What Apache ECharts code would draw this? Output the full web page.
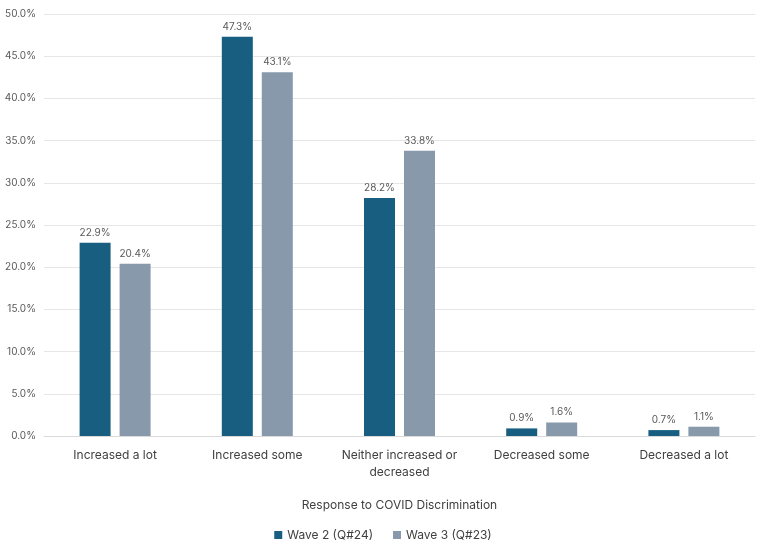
<!DOCTYPE html>
<html><head><meta charset="utf-8">
<script src="https://cdn.jsdelivr.net/npm/echarts@6/dist/echarts.min.js"></script>
<style>html,body{margin:0;padding:0;background:#fff}#c{width:766px;height:548px}</style>
</head><body><div id="c"></div>
<script>
const categories = ["Increased a lot", "Increased some", "Neither increased or\ndecreased", "Decreased some", "Decreased a lot"];
const wave2 = [22.9, 47.3, 28.2, 0.9, 0.7];
const wave3 = [20.4, 43.1, 33.8, 1.6, 1.1];
const seriesNames = ["Wave 2 (Q#24)", "Wave 3 (Q#23)"];
const axisTitle = "Response to COVID Discrimination";

const chart = echarts.init(document.getElementById('c'));
const lbl = {show:true, position:'top', distance:5, color:'#595959', fontSize:10, fontFamily:'Inter, Roboto, sans-serif', formatter: p => p.value.toFixed(1) + '%'};
chart.setOption({
  animation:false,
  grid:{left:44, right:11, top:14, bottom:112, containLabel:false},
  legend:{bottom:2, left:'center', itemWidth:8, itemHeight:8, itemGap:20, icon:'rect',
    textStyle:{color:'#404040', fontSize:12, fontFamily:'Inter, Roboto, sans-serif'}, data:seriesNames},
  xAxis:{type:'category', data:categories,
    name:axisTitle, nameLocation:'middle', nameGap:63,
    nameTextStyle:{color:'#404040', fontSize:12, fontFamily:'Inter, Roboto, sans-serif'},
    axisLine:{lineStyle:{color:'#d9d9d9'}}, axisTick:{show:false},
    axisLabel:{color:'#404040', fontSize:12, lineHeight:17, margin:11, interval:0, fontFamily:'Inter, Roboto, sans-serif'}},
  yAxis:{type:'value', min:0, max:50, interval:5,
    axisLine:{show:false}, axisTick:{show:false},
    splitLine:{lineStyle:{color:'#e6e6e6'}},
    axisLabel:{color:'#595959', fontSize:10, margin:8, fontFamily:'Inter, Roboto, sans-serif', formatter: v => v.toFixed(1) + '%'}},
  series:[
    {name:seriesNames[0], type:'bar', data:wave2, barWidth:31, barGap:'29%', itemStyle:{color:'#175e80'}, label:lbl},
    {name:seriesNames[1], type:'bar', data:wave3, barWidth:31, itemStyle:{color:'#8799ab'}, label:lbl}
  ]
});
</script></body></html>
